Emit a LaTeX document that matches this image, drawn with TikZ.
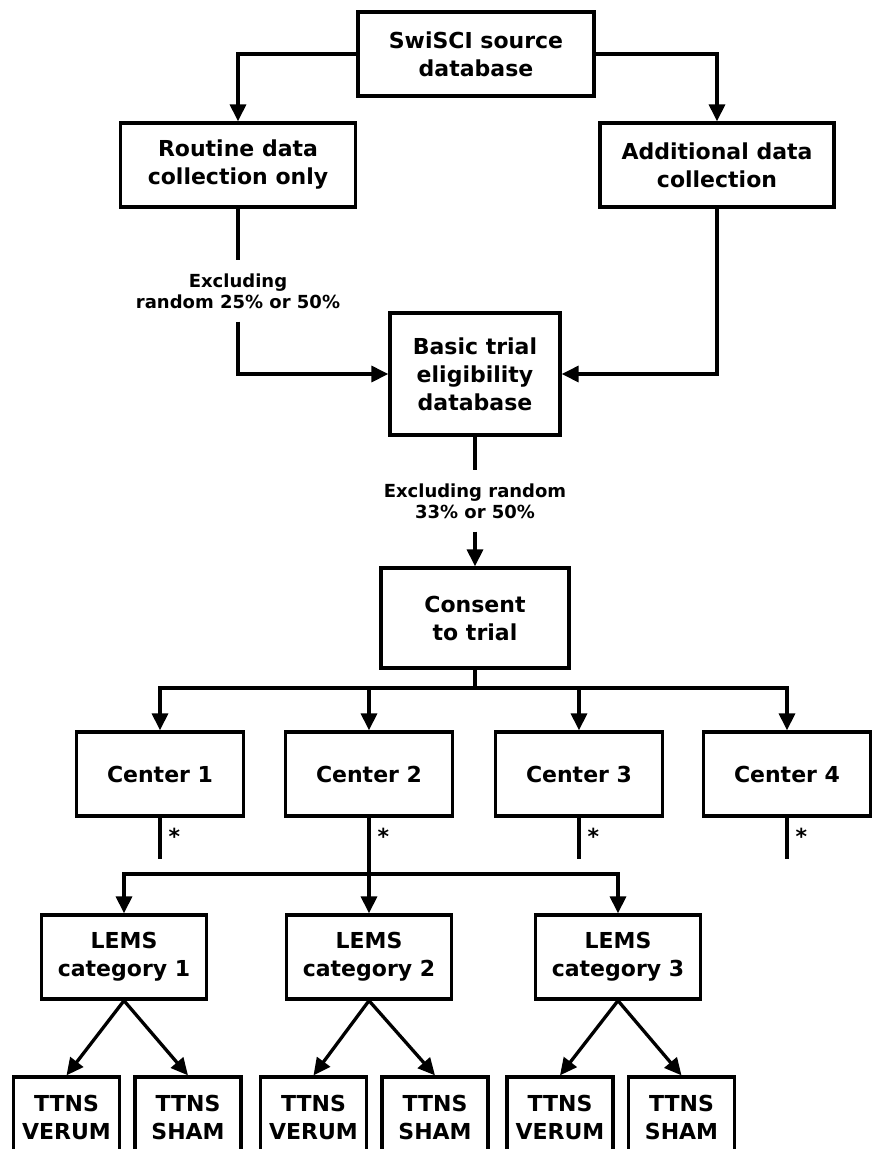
\documentclass[tikz,border=0pt]{standalone}
\usepackage{fontspec}
\setmainfont{DejaVu Sans}
\usetikzlibrary{arrows.meta}

\begin{document}
\begin{tikzpicture}[x=1pt,y=-1pt,line width=3.3pt,
  box/.style={draw,align=center,inner sep=0pt,minimum height=84pt,font=\fontsize{22}{28}\selectfont\bfseries},
  note/.style={align=center,inner sep=0pt,font=\fontsize{18}{21}\selectfont\bfseries},
  arr/.style={-{Triangle[length=17pt,width=16pt]}}]
\clip (0,0) rectangle (874,1149);

% databases
\node[box,minimum width=236pt] (src) at (476,54) {SwiSCI source\\database};
\node[box,minimum width=235pt] (routine) at (238,165) {Routine data\\collection only};
\node[box,minimum width=234pt] (addl) at (717,165) {Additional data\\collection};
\node[box,minimum width=170pt,minimum height=122pt] (basic) at (475,374) {Basic trial\\eligibility\\database};
\node[box,minimum width=188pt,minimum height=100pt] (consent) at (475,618) {Consent\\to trial};

\node[note,minimum height=58pt] (excl1) at (238,291) {Excluding\\random 25\% or 50\%};
\node[note,minimum height=58pt] (excl2) at (475,501) {Excluding random\\33\% or 50\%};

\draw[arr] (src.west) -| (routine.north);
\draw[arr] (src.east) -| (addl.north);
\draw (routine.south) -- (excl1.north);
\draw[arr] (excl1.south) |- (basic.west);
\draw[arr] (addl.south) |- (basic.east);
\draw (basic.south) -- (excl2.north);
\draw[arr] (excl2.south) -- (consent.north);

% centers
\coordinate (split) at (475,688);
\draw (consent.south) -- (split);
\foreach \i/\x in {1/160,2/369,3/579,4/787}{
  \node[box,minimum width=167pt] (c\i) at (\x,774) {Center \i};
  \path (c\i.south) ++(0,41) coordinate (stub\i);
  \draw[arr] (split) -| (c\i.north);
  \draw (c\i.south) -- (stub\i) node[midway,right=7pt,yshift=2pt,inner sep=0pt,font=\fontsize{22}{22}\selectfont\bfseries] {*};
}

% LEMS categories and TTNS arms
\coordinate (lsplit) at (369,874);
\draw (c2.south) -- (lsplit);
\foreach \i/\x/\v/\s in {1/124/66.5/188,2/369/313.5/435,3/618/560/681.5}{
  \node[box,minimum width=165pt] (lems\i) at (\x,957) {LEMS\\category \i};
  \draw[arr] (lsplit) -| (lems\i.north);
  \node[box,minimum width=106pt,minimum height=80pt] (verum\i) at (\v,1117) {TTNS\\VERUM};
  \node[box,minimum width=106pt,minimum height=80pt] (sham\i) at (\s,1117) {TTNS\\SHAM};
  \draw[arr] (lems\i.south) -- (verum\i.north);
  \draw[arr] (lems\i.south) -- (sham\i.north);
}

\end{tikzpicture}
\end{document}
